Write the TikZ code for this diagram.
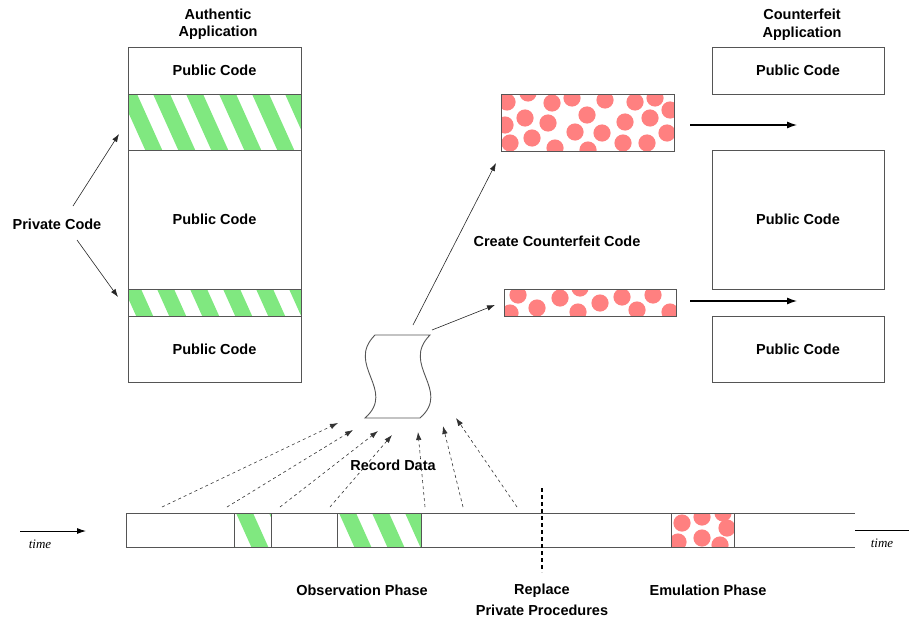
\documentclass[tikz,border=0pt]{standalone}
\usepackage{fontspec}
\setmainfont{Liberation Sans}
\newfontfamily\timefont{Liberation Serif}
\usetikzlibrary{arrows.meta}
\definecolor{stripegreen}{RGB}{128,232,128}
\definecolor{dotred}{RGB}{255,128,128}
\definecolor{edge}{RGB}{85,85,85}

% diagonal green stripes inside a rectangle: #1,#2 = top-left, #3,#4 = bottom-right, #5 = phase
\newcommand\greenstripes[5]{%
  \begin{scope}
    \clip (#1,#2) rectangle (#3,#4);
    \foreach \k in {-2,...,6}{
      \fill[stripegreen]
        ({#1+#5+\k*33},#2) -- ({#1+#5+\k*33+17},#2)
        -- ({#1+#5+\k*33+17+0.45*(#4-#2)},#4)
        -- ({#1+#5+\k*33+0.45*(#4-#2)},#4) -- cycle;
    }
  \end{scope}}

% red dots inside a rectangle, centres given as a list
\newcommand\reddots[5]{%
  \begin{scope}
    \clip (#1,#2) rectangle (#3,#4);
    \foreach \cx/\cy in {#5}{ \fill[dotred] (\cx,\cy) circle[radius=8.6]; }
  \end{scope}}

\tikzset{
  codebox/.style={draw=edge, line width=0.9pt, rectangle, inner sep=0pt,
    font=\bfseries\fontsize{14.5}{17}\selectfont},
  label/.style={font=\bfseries\fontsize{14.5}{21}\selectfont, align=center, inner sep=0pt},
  title/.style={font=\bfseries\fontsize{14.5}{17.5}\selectfont, align=center, inner sep=0pt},
  timelabel/.style={font=\timefont\itshape\fontsize{13}{15}\selectfont, inner sep=0pt},
  solidarrow/.style={-{Latex[length=8pt,width=5.5pt]}, line width=0.6pt, black!85},
  thickarrow/.style={-{Latex[length=10pt,width=7pt]}, line width=1.2pt, black},
  recarrow/.style={-{Latex[length=8pt,width=5.5pt]}, line width=0.6pt, black!80,
    dash pattern=on 3pt off 3pt},
  cell/.style={draw=edge, line width=0.9pt, rectangle, inner sep=0pt, minimum height=34pt}
}

\begin{document}
\begin{tikzpicture}[x=1pt,y=-1pt]
\useasboundingbox (0,0) rectangle (909,618);

% ---------- authentic application ----------
\node[title] (authtitle) at (218,24.5) {Authentic\\Application};
\greenstripes{128}{94}{301}{150}{-8}
\greenstripes{128}{289}{301}{316}{-4}
\node[codebox, minimum width=173pt, minimum height=47pt] (a1) at (214.5,70.5) {Public Code};
\node[codebox, minimum width=173pt, minimum height=56pt] (a2) at (214.5,122) {};
\node[codebox, minimum width=173pt, minimum height=139pt] (a3) at (214.5,219.5) {Public Code};
\node[codebox, minimum width=173pt, minimum height=27pt] (a4) at (214.5,302.5) {};
\node[codebox, minimum width=173pt, minimum height=66pt] (a5) at (214.5,349) {Public Code};

\node[label] (priv) at (57,224) {Private Code};
\coordinate (privup) at (73,206);
\coordinate (privdn) at (77,240);
\coordinate (a2in) at (119,134);
\coordinate (a4in) at (118,297);
\draw[solidarrow] (privup) -- (a2in);
\draw[solidarrow] (privdn) -- (a4in);

% ---------- counterfeit code ----------
\reddots{501}{94}{674}{151}{507/102,528/93,552/103,572/98,605/100,635/102,655/98,670/110,
  525/118,548/123,587/115,625/122,650/118,505/125,575/132,602/133,667/133,
  510/143,532/138,555/148,588/150,623/143,647/143}
\node[codebox, minimum width=173pt, minimum height=57pt] (c1) at (587.5,122.5) {};
\reddots{504}{289}{676}{316}{518/295,510/313,537/308,560/298,580/288,578/312,600/303,
  622/297,637/310,653/295,670/312}
\node[codebox, minimum width=172pt, minimum height=27pt] (c2) at (590,302.5) {};

\node[label] (create) at (557,241) {Create Counterfeit Code};

% ---------- counterfeit application ----------
\node[title] (cftitle) at (802,25) {Counterfeit\\Application};
\node[codebox, minimum width=172pt, minimum height=47pt] (b1) at (798,70.5) {Public Code};
\node[codebox, minimum width=172pt, minimum height=139pt] (b3) at (798,219.5) {Public Code};
\node[codebox, minimum width=172pt, minimum height=66pt] (b5) at (798,349) {Public Code};

\coordinate (c1out) at (690,125);
\coordinate (b1in) at (797,125);
\coordinate (c2out) at (690,301);
\coordinate (b5in) at (797,301);
\draw[thickarrow] (c1out) -- (b1in);
\draw[thickarrow] (c2out) -- (b5in);

% ---------- recorded data store ----------
\draw[edge, line width=0.9pt] (375,335) -- (430,335)
  .. controls (400,365) and (452,390) .. (420,418) -- (365,418)
  .. controls (397,390) and (345,365) .. (375,335) -- cycle;
\coordinate (recup) at (413,325);
\coordinate (recright) at (432,330);
\coordinate (c1in) at (496,163);
\coordinate (c2in) at (495,305);
\draw[solidarrow] (recup) -- (c1in);
\draw[solidarrow] (recright) -- (c2in);

\node[label] (recdata) at (393,465) {Record Data};

% ---------- timeline ----------
\draw[edge, line width=0.9pt] (126,513) -- (855,513);
\draw[edge, line width=0.9pt] (126,547) -- (855,547);
\draw[edge, line width=0.9pt] (126,513) -- (126,547);
\greenstripes{234}{513}{271}{547}{2}
\greenstripes{337}{513}{421}{547}{2}
\reddots{671}{513}{734}{547}{682/523,702/517,723/513,727/528,702/538,678/542,720/545}
\node[cell, minimum width=37pt] (t1) at (252.5,530) {};
\node[cell, minimum width=84pt] (t2) at (379,530) {};
\node[cell, minimum width=63pt] (t3) at (702.5,530) {};

\draw[black, line width=1.3pt, dash pattern=on 4pt off 3pt] (542,488) -- (542,572);

% observations flowing into the record
\foreach \sx/\ex/\ey [count=\i] in {162/338/423, 227/353/430, 280/378/431, 330/392/435,
    425/418/432, 463/443/426, 517/456/418}{
  \coordinate (obs\i) at (\sx,507);
  \coordinate (rin\i) at (\ex,\ey);
  \draw[recarrow] (obs\i) -- (rin\i);
}

% time axis
\coordinate (tl0) at (20,531);
\coordinate (tl1) at (86,531);
\draw[-{Latex[length=9pt,width=6pt]}, line width=0.9pt, black] (tl0) -- (tl1);
\node[timelabel] (timeL) at (40,544) {time};
\coordinate (tr0) at (855,530);
\coordinate (tr1) at (909,530);
\draw[black, line width=0.9pt] (tr0) -- (tr1);
\node[timelabel] (timeR) at (882,543) {time};

\node[label] (obsphase) at (362,590) {Observation Phase};
\node[label] (replace) at (542,600) {Replace\\Private Procedures};
\node[label] (emuphase) at (708,590) {Emulation Phase};
\end{tikzpicture}
\end{document}
